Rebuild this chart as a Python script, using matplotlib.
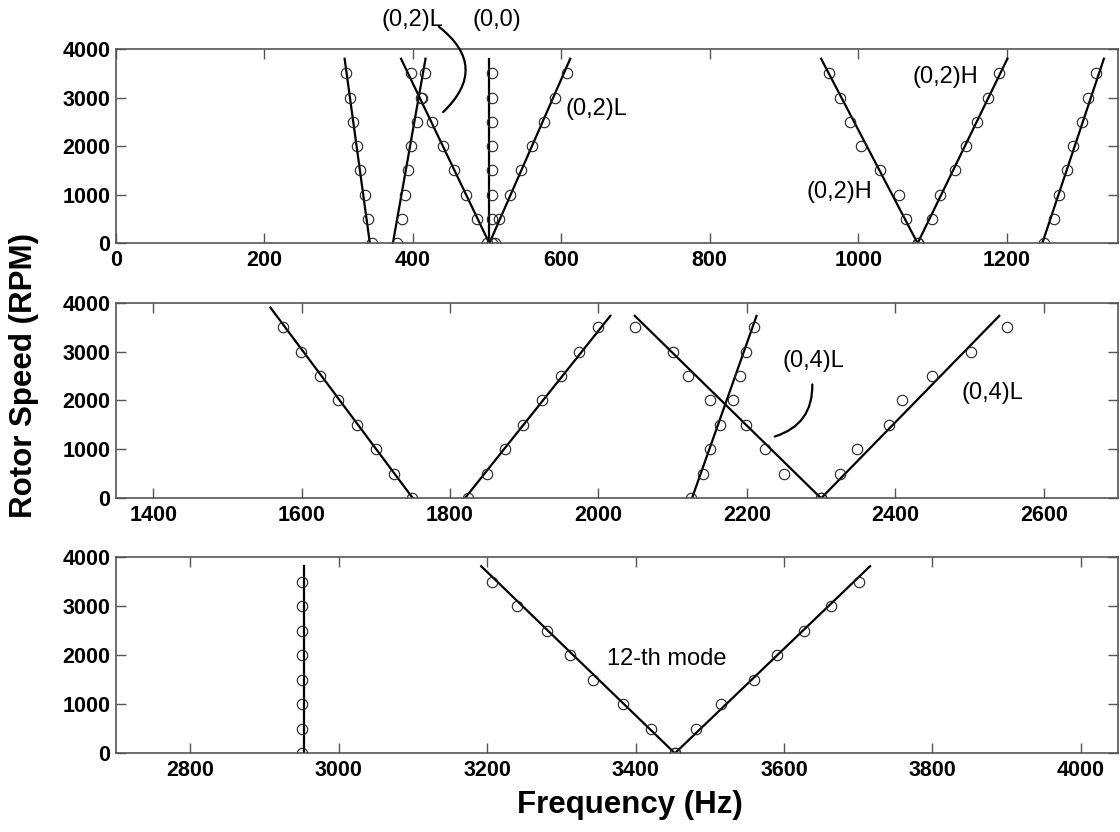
import matplotlib
matplotlib.use('Agg')
import matplotlib.pyplot as plt

plt.rcParams['font.family'] = ['Liberation Sans', 'DejaVu Sans']

# rotor speeds at which the frequencies were measured
rpm = [0, 500, 1000, 1500, 2000, 2500, 3000, 3500]

# measured frequencies (Hz), one list per branch
top_pts = [
    [345, 339, 335, 329, 324, 319, 315, 310],
    [379, 385, 389, 394, 398, 405, 412, 416],
    [500, 486, 471, 456, 441, 426, 411, 398],
    [506, 506, 506, 506, 506, 506, 506, 506],
    [510, 516, 531, 546, 561, 576, 592, 607],
    [1080, 1064, 1055, 1029, 1004, 989, 975, 961],
    [1081, 1100, 1110, 1130, 1145, 1160, 1175, 1190],
    [1250, 1264, 1271, 1281, 1289, 1301, 1310, 1320],
]
mid_pts = [
    [1749, 1724, 1700, 1674, 1649, 1625, 1599, 1575],
    [1824, 1850, 1874, 1899, 1924, 1949, 1974, 1999],
    [2300, 2250, 2224, 2199, 2150, 2120, 2100, 2049],
    [2125, 2141, 2150, 2164, 2181, 2191, 2199, 2210],
    [2300, 2325, 2349, 2391, 2409, 2450, 2502, 2550],
]
bot_pts = [
    [2950, 2950, 2950, 2950, 2950, 2950, 2950, 2950],
    [3453, 3421, 3383, 3342, 3312, 3281, 3240, 3206],
    [3453, 3481, 3515, 3560, 3590, 3627, 3663, 3701],
]

# predicted lines: (freq at 0 rpm, freq at top, top rpm)
top_lines = [(342, 308, 3800), (373, 417, 3800), (503, 384, 3800), (503, 503, 3800),
             (503, 612, 3800), (1080, 950, 3800), (1080, 1201, 3800), (1248, 1331, 3800)]
mid_lines = [(1750, 1558, 3900), (1820, 2016, 3730), (2300, 2049, 3730),
             (2126, 2213, 3730), (2300, 2540, 3730)]
bot_lines = [(2953, 2953, 3815), (3453, 3192, 3818), (3453, 3716, 3818)]

xlims = [(0, 1350), (1350, 2700), (2700, 4050)]
xticks = [[0, 200, 400, 600, 800, 1000, 1200],
          [1400, 1600, 1800, 2000, 2200, 2400, 2600],
          [2800, 3000, 3200, 3400, 3600, 3800, 4000]]
yticks = [0, 1000, 2000, 3000, 4000]


def panel(ax, pts, lines, xlim, xt):
    for f0, f1, r1 in lines:
        ax.plot([f0, f1], [0, r1], color='black', lw=1.6)
    for p in pts:
        ax.plot(p, rpm, 'o', ms=7.5, mfc='none', mec='#222222', mew=0.8)
    ax.set_xlim(xlim)
    ax.set_ylim(0, 4000)
    ax.set_xticks(xt)
    ax.set_yticks(yticks)
    ax.tick_params(direction='in', length=7, width=1, color='#555555',
                   top=True, right=True, labelsize=15.5)
    ax.tick_params(axis='x', pad=5)
    ax.tick_params(axis='y', pad=4)
    for lab in ax.get_xticklabels() + ax.get_yticklabels():
        lab.set_fontweight('bold')
    for s in ax.spines.values():
        s.set_color('#555555')
        s.set_linewidth(1.2)


fig = plt.figure(figsize=(11.2, 8.32), dpi=100)
ax1 = fig.add_axes([0.1036, 0.7076, 0.8946, 0.2335])
ax2 = fig.add_axes([0.1036, 0.4011, 0.8946, 0.2351])
ax3 = fig.add_axes([0.1036, 0.0946, 0.8946, 0.2356])

panel(ax1, top_pts, top_lines, xlims[0], xticks[0])
panel(ax2, mid_pts, mid_lines, xlims[1], xticks[1])
panel(ax3, bot_pts, bot_lines, xlims[2], xticks[2])

fs = 17
ax1.text(399, 4597, '(0,2)L', fontsize=fs, ha='center', va='center', clip_on=False)
ax1.text(513, 4597, '(0,0)', fontsize=fs, ha='center', va='center', clip_on=False)
ax1.annotate('', xy=(438, 2662), xytext=(432, 4494), annotation_clip=False,
             arrowprops=dict(arrowstyle='-', color='black', lw=1.6,
                             connectionstyle='arc3,rad=-0.6'))
ax1.text(647, 2765, '(0,2)L', fontsize=fs, ha='center', va='center')
ax1.text(1117, 3423, '(0,2)H', fontsize=fs, ha='center', va='center')
ax1.text(975, 1062, '(0,2)H', fontsize=fs, ha='center', va='center')

ax2.text(2290, 2808, '(0,4)L', fontsize=fs, ha='center', va='center')
ax2.annotate('', xy=(2234, 1247), xytext=(2288, 2385),
             arrowprops=dict(arrowstyle='-', color='black', lw=1.6,
                             connectionstyle='arc3,rad=-0.4'))
ax2.text(2531, 2153, '(0,4)L', fontsize=fs, ha='center', va='center')

ax3.text(3442, 1924, '12-th mode', fontsize=fs, ha='center', va='center')

fig.text(0.021, 1 - 375 / 832, 'Rotor Speed (RPM)', rotation=90, fontsize=22.5,
         fontweight='bold', ha='center', va='center')
fig.text(0.5625, 1 - 805 / 832, 'Frequency (Hz)', fontsize=22.5,
         fontweight='bold', ha='center', va='center')

fig.savefig('out.png', dpi=100)
